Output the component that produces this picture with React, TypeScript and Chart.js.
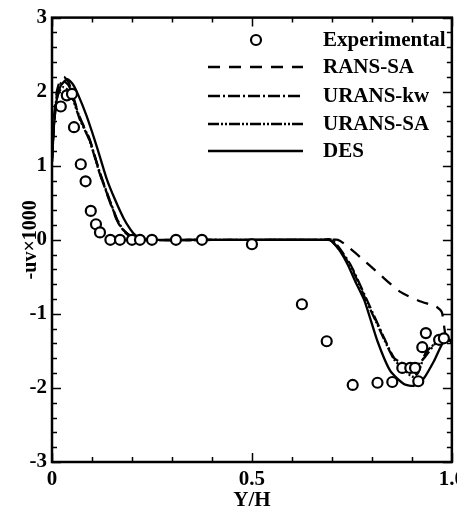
import React, { useEffect, useRef } from 'react';
import { Chart, registerables } from 'chart.js';

Chart.register(...registerables);

const FONT = '"Liberation Serif", "Times New Roman", serif';

// Experimental data (circles)
const expX = [0.022, 0.037, 0.05, 0.055, 0.072, 0.084, 0.097, 0.11, 0.12, 0.146, 0.17, 0.2, 0.22, 0.25, 0.31, 0.375, 0.5, 0.625, 0.687, 0.752, 0.814, 0.851, 0.876, 0.896, 0.908, 0.916, 0.926, 0.935, 0.968, 0.98];
const expY = [1.8, 1.95, 1.97, 1.52, 1.02, 0.79, 0.39, 0.21, 0.1, 0.0, 0.0, 0.0, 0.0, 0.0, 0.0, 0.0, -0.06, -0.87, -1.37, -1.96, -1.93, -1.92, -1.73, -1.73, -1.73, -1.91, -1.45, -1.26, -1.35, -1.33];

// RANS-SA (dashed)
const ransX = [0, 0.005, 0.012, 0.02, 0.03, 0.042, 0.052, 0.07, 0.094, 0.119, 0.14, 0.161, 0.175, 0.189, 0.2, 0.215, 0.5, 0.7, 0.715, 0.73, 0.77, 0.82, 0.87, 0.92, 0.96, 0.975, 0.985, 1.0];
const ransY = [1.1, 1.65, 2.0, 2.15, 2.2, 2.12, 1.95, 1.65, 1.36, 0.91, 0.58, 0.28, 0.14, 0.07, 0.03, 0, 0, 0, 0, -0.05, -0.23, -0.47, -0.7, -0.83, -0.9, -0.98, -1.3, -1.35];

// URANS-kw (dash-dot)
const kwX = [0, 0.005, 0.012, 0.02, 0.03, 0.042, 0.052, 0.07, 0.094, 0.119, 0.14, 0.161, 0.175, 0.189, 0.2, 0.215, 0.5, 0.68, 0.69, 0.7, 0.72, 0.747, 0.768, 0.789, 0.81, 0.831, 0.856, 0.881, 0.906, 0.93, 0.963, 0.985, 1.0];
const kwY = [1.1, 1.6, 1.95, 2.1, 2.14, 2.08, 1.93, 1.64, 1.35, 0.92, 0.6, 0.3, 0.16, 0.08, 0.04, 0, 0, 0, 0.01, 0, -0.12, -0.34, -0.58, -0.83, -1.08, -1.33, -1.6, -1.68, -1.73, -1.6, -1.37, -1.3, -1.4];

// URANS-SA (dash-dot-dot)
const saX = [0, 0.005, 0.012, 0.02, 0.028, 0.04, 0.052, 0.07, 0.094, 0.119, 0.14, 0.161, 0.175, 0.189, 0.2, 0.215, 0.5, 0.68, 0.69, 0.7, 0.72, 0.747, 0.768, 0.789, 0.81, 0.831, 0.856, 0.881, 0.9, 0.915, 0.935, 0.963, 0.985, 1.0];
const saY = [1.05, 1.55, 1.9, 2.02, 2.06, 2.02, 1.9, 1.62, 1.34, 0.9, 0.59, 0.29, 0.15, 0.08, 0.04, 0, 0, 0, 0.01, -0.02, -0.14, -0.36, -0.6, -0.86, -1.1, -1.35, -1.62, -1.75, -1.85, -1.8, -1.52, -1.38, -1.32, -1.38];

// DES (solid)
const desX = [0, 0.005, 0.012, 0.022, 0.038, 0.052, 0.066, 0.086, 0.106, 0.121, 0.137, 0.157, 0.18, 0.196, 0.207, 0.222, 0.236, 0.5, 0.69, 0.7, 0.72, 0.74, 0.76, 0.782, 0.814, 0.846, 0.881, 0.906, 0.93, 0.955, 0.98, 1.0];
const desY = [1.05, 1.55, 1.9, 2.08, 2.17, 2.1, 1.95, 1.68, 1.36, 1.1, 0.82, 0.55, 0.28, 0.14, 0.07, 0.02, 0, 0, 0, -0.02, -0.15, -0.34, -0.58, -0.83, -1.37, -1.77, -1.95, -1.97, -1.87, -1.64, -1.37, -1.35];

const seriesNames = ['Experimental', 'RANS-SA', 'URANS-kw', 'URANS-SA', 'DES'];
const xTitle = 'Y/H';
const yTitle = '-uv\u00d71000';

const DASH_RANS = [12, 9];
const DASH_KW = [12, 3, 2, 3];
const DASH_SA = [11, 2, 2, 2, 2, 2];

const pts = (xs: number[], ys: number[]) => xs.map((x, i) => ({ x, y: ys[i] }));

export default function App() {
  const ref = useRef<HTMLCanvasElement>(null);

  useEffect(() => {
    if (!ref.current) return;
    Chart.defaults.color = '#000';

    const framePlugin = {
      id: 'frameTicks',
      afterDraw(chart: any) {
        const ctx = chart.ctx;
        const { left, right, top, bottom } = chart.chartArea;
        const xs = chart.scales.x;
        const ys = chart.scales.y;
        ctx.save();
        ctx.strokeStyle = '#000';
        ctx.lineWidth = 1.5;
        ctx.setLineDash([]);
        // y ticks
        for (let i = 0; i <= 30; i++) {
          const v = -3 + i * 0.2;
          const py = Math.round(ys.getPixelForValue(v)) + 0.5;
          const major = i % 5 === 0;
          const len = major ? 9 : 5;
          ctx.beginPath();
          ctx.moveTo(left, py); ctx.lineTo(left + len, py);
          ctx.moveTo(right, py); ctx.lineTo(right - len, py);
          ctx.stroke();
        }
        // x ticks
        for (let i = 0; i <= 10; i++) {
          const v = i * 0.1;
          const px = Math.round(xs.getPixelForValue(v)) + 0.5;
          const major = i % 5 === 0;
          const len = major ? 9 : 5;
          ctx.beginPath();
          ctx.moveTo(px, bottom); ctx.lineTo(px, bottom - len);
          ctx.moveTo(px, top); ctx.lineTo(px, top + len);
          ctx.stroke();
        }
        // frame
        ctx.lineWidth = 2.5;
        ctx.strokeRect(left, top, right - left, bottom - top);

        // legend
        const lx0 = 208, lx1 = 303, tx = 323;
        const rows = [40, 67, 96, 124, 151];
        ctx.font = 'bold 21px ' + FONT;
        ctx.textBaseline = 'alphabetic';
        ctx.textAlign = 'left';
        ctx.beginPath();
        ctx.arc(256, rows[0], 5, 0, Math.PI * 2);
        ctx.fillStyle = '#fff';
        ctx.fill();
        ctx.lineWidth = 2.2;
        ctx.stroke();
        ctx.fillStyle = '#000';
        const dashes = [DASH_RANS, DASH_KW, DASH_SA, []];
        for (let i = 1; i < 5; i++) {
          ctx.beginPath();
          ctx.setLineDash(dashes[i - 1]);
          ctx.lineWidth = 2.4;
          ctx.moveTo(lx0, rows[i]);
          ctx.lineTo(lx1, rows[i]);
          ctx.stroke();
        }
        ctx.setLineDash([]);
        for (let i = 0; i < 5; i++) {
          ctx.fillText(seriesNames[i], tx, rows[i] + 6);
        }
        ctx.restore();
      },
    };

    const lineDs = (label: string, xs: number[], ys: number[], dash: number[]) => ({
      label,
      data: pts(xs, ys),
      showLine: true,
      borderColor: '#000',
      backgroundColor: '#000',
      borderWidth: 2.3,
      borderDash: dash,
      pointRadius: 0,
      tension: 0.2,
      order: 1,
    });

    const chart = new Chart(ref.current, {
      type: 'scatter',
      data: {
        datasets: [
          {
            label: seriesNames[0],
            data: pts(expX, expY),
            pointRadius: 5,
            pointBorderWidth: 2.2,
            borderColor: '#000',
            backgroundColor: '#fff',
            pointBackgroundColor: '#fff',
            pointBorderColor: '#000',
            showLine: false,
            order: 0,
          } as any,
          lineDs(seriesNames[1], ransX, ransY, DASH_RANS),
          lineDs(seriesNames[2], kwX, kwY, DASH_KW),
          lineDs(seriesNames[3], saX, saY, DASH_SA),
          lineDs(seriesNames[4], desX, desY, []),
        ],
      },
      options: {
        responsive: true,
        maintainAspectRatio: false,
        animation: false,
        layout: { padding: { top: 15, right: 15, left: 0, bottom: 0 } },
        plugins: { legend: { display: false }, tooltip: { enabled: false } },
        scales: {
          x: {
            type: 'linear',
            min: 0,
            max: 1,
            ticks: { stepSize: 0.5, font: { family: FONT, size: 21, weight: 'bold' }, color: '#000', padding: 5, maxRotation: 0 },
            grid: { display: false, drawTicks: false },
            border: { display: false },
            title: { display: true, text: xTitle, color: '#000', font: { family: FONT, size: 21, weight: 'bold' }, padding: { top: 0, bottom: 8 } },
            afterFit: (s: any) => { s.height = 59; },
          },
          y: {
            type: 'linear',
            min: -3,
            max: 3,
            ticks: { stepSize: 1, font: { family: FONT, size: 21, weight: 'bold' }, color: '#000', padding: 5 },
            grid: { display: false, drawTicks: false },
            border: { display: false },
            title: { display: true, text: yTitle, color: '#000', font: { family: FONT, size: 20, weight: 'bold' }, padding: { top: 19, bottom: 0 } },
            afterFit: (s: any) => { s.width = 52; },
          },
        },
      } as any,
      plugins: [framePlugin],
    });
    return () => chart.destroy();
  }, []);

  return (
    <div style={{ position: 'fixed', left: 0, top: 0, width: 470, height: 521, background: '#fff' }}>
      <canvas ref={ref} />
    </div>
  );
}
